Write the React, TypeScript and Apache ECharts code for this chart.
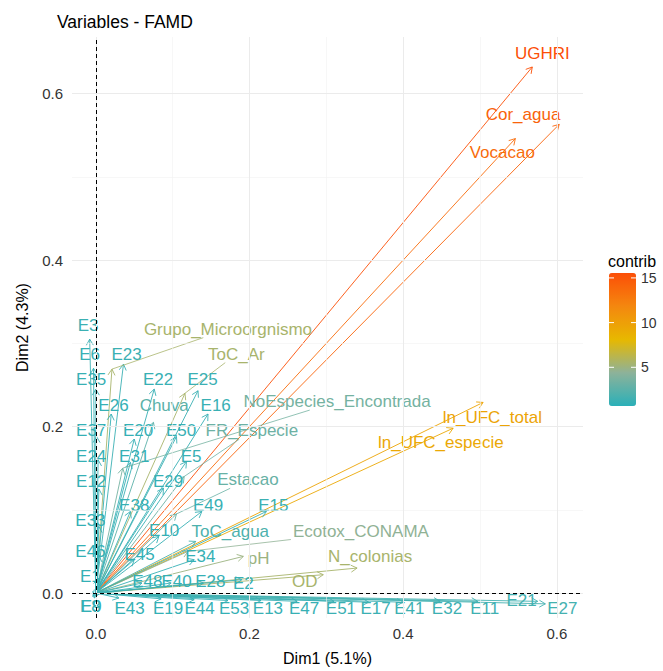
import React, { useEffect, useRef } from "react";
import * as echarts from "echarts";

// ---- data (FAMD variable coordinates) ----
const varNames = [
  "UGHRI", "Cor_agua", "Vocacao", "ln_UFC_total", "ln_UFC_especie",
  "Grupo_Microorgnismo", "ToC_Ar", "NoEspecies_Encontrada", "FR_Especie", "Chuva",
  "Estacao", "ToC_agua", "Ecotox_CONAMA", "pH", "N_colonias", "OD",
  "E3", "E6", "E35", "E37", "E24", "E12", "E33", "E46", "E1", "E8", "E9",
  "E23", "E22", "E25", "E26", "E16", "E20", "E50", "E31", "E5", "E29", "E38",
  "E49", "E15", "E10", "E45", "E34", "E48", "E40", "E28", "E2",
  "E43", "E19", "E44", "E53", "E13", "E47", "E51", "E17", "E41", "E32", "E11", "E21", "E27",
];
const dim1 = [
  0.568, 0.603, 0.546, 0.504, 0.465,
  0.021, 0.116, 0.035, 0.115, 0.075,
  0.105, 0.130, 0.120, 0.192, 0.340, 0.296,
  -0.008, -0.003, 0.000, 0.001, 0.003, 0.004, 0.004, 0.004, 0.003, -0.004, -0.002,
  0.036, 0.076, 0.133, 0.020, 0.146, 0.050, 0.105, 0.045, 0.118, 0.088, 0.045,
  0.138, 0.222, 0.082, 0.050, 0.128, 0.060, 0.098, 0.140, 0.190,
  0.030, 0.085, 0.128, 0.172, 0.215, 0.262, 0.310, 0.355, 0.400, 0.448, 0.497, 0.575, 0.585,
];
const dim2 = [
  0.632, 0.563, 0.546, 0.229, 0.198,
  0.269, 0.240, 0.150, 0.140, 0.205,
  0.095, 0.062, 0.050, 0.044, 0.030, 0.022,
  0.305, 0.270, 0.245, 0.188, 0.160, 0.125, 0.080, 0.045, 0.018, -0.004, -0.006,
  0.275, 0.245, 0.243, 0.215, 0.215, 0.185, 0.188, 0.157, 0.158, 0.126, 0.098,
  0.098, 0.098, 0.068, 0.040, 0.040, 0.012, 0.012, 0.012, 0.016,
  -0.006, -0.007, -0.008, -0.009, -0.009, -0.010, -0.010, -0.011, -0.011, -0.010, -0.010, -0.010, -0.013,
];
const contrib = [
  15.5, 14.2, 13.6, 9.6, 9.3,
  5.5, 5.5, 3.5, 3.2, 2.5,
  3.0, 2.0, 4.5, 5.0, 5.5, 5.5,
  1.3, 1.2, 1.2, 1.1, 1.1, 1.1, 1.0, 1.0, 1.0, 1.0, 1.0,
  1.3, 1.2, 1.3, 1.1, 1.2, 1.1, 1.2, 1.1, 1.2, 1.1, 1.1,
  1.2, 1.3, 1.1, 1.0, 1.1, 1.0, 1.1, 1.1, 1.2,
  1.0, 1.0, 1.1, 1.1, 1.2, 1.2, 1.3, 1.3, 1.4, 1.4, 1.5, 1.6, 1.7,
];
// repelled label positions (data coordinates)
const labelDim1 = [
  0.581, 0.556, 0.529, 0.516, 0.449,
  0.172, 0.183, 0.314, 0.203, 0.089,
  0.198, 0.175, 0.345, 0.212, 0.357, 0.272,
  -0.010, -0.008, -0.006, -0.006, -0.006, -0.006, -0.007, -0.007, -0.007, -0.007, -0.006,
  0.040, 0.081, 0.139, 0.023, 0.156, 0.055, 0.111, 0.050, 0.124, 0.094, 0.050,
  0.146, 0.231, 0.089, 0.057, 0.136, 0.067, 0.105, 0.149, 0.192,
  0.044, 0.094, 0.135, 0.180, 0.224, 0.271, 0.319, 0.364, 0.408, 0.457, 0.506, 0.554, 0.607,
];
const labelDim2 = [
  0.648, 0.575, 0.529, 0.211, 0.181,
  0.317, 0.287, 0.230, 0.195, 0.225,
  0.136, 0.074, 0.074, 0.042, 0.044, 0.014,
  0.321, 0.287, 0.256, 0.195, 0.164, 0.134, 0.087, 0.050, 0.020, -0.016, -0.016,
  0.287, 0.257, 0.257, 0.225, 0.225, 0.195, 0.195, 0.164, 0.164, 0.134, 0.105,
  0.105, 0.105, 0.075, 0.046, 0.044, 0.014, 0.014, 0.014, 0.012,
  -0.018, -0.018, -0.018, -0.018, -0.018, -0.018, -0.018, -0.018, -0.018, -0.018, -0.018, -0.009, -0.019,
];
const axisTicks = [0, 0.2, 0.4, 0.6];
const minorTicks = [0.1, 0.3, 0.5];
const legendTicks = [5, 10, 15];
const contribMin = 0.67;
const contribMax = 15.55;

const FONT = '"Liberation Sans", Arial, sans-serif';
const LABEL_SIZE = 17;

export default function App() {
  const ref = useRef<HTMLDivElement>(null);

  useEffect(() => {
    if (!ref.current) return;
    const chart = echarts.init(ref.current, null, { renderer: "svg" });

    const canvas = document.createElement("canvas");
    const ctx = canvas.getContext("2d")!;
    ctx.font = `${LABEL_SIZE}px ${FONT}`;

    const data = varNames.map((_, i) => [dim1[i], dim2[i], contrib[i], labelDim1[i], labelDim2[i]]);

    const gridLeft = 72, gridRight = 80, gridTop = 37, gridBottom = 51;

    const gridLines: any[] = [];
    minorTicks.forEach((v) => {
      gridLines.push({ xAxis: v, lineStyle: { color: "#F2F2F2", width: 0.6, type: "solid" } });
      gridLines.push({ yAxis: v, lineStyle: { color: "#F2F2F2", width: 0.6, type: "solid" } });
    });
    axisTicks.forEach((v) => {
      gridLines.push({ xAxis: v, lineStyle: { color: "#EBEBEB", width: 1, type: "solid" } });
      gridLines.push({ yAxis: v, lineStyle: { color: "#EBEBEB", width: 1, type: "solid" } });
    });

    // legend geometry
    const lgLeft = 609, lgTop = 273, lgW = 27, lgH = 133;
    const valToY = (v: number) => lgTop + lgH - ((v - contribMin) / (contribMax - contribMin)) * lgH;
    const legendGraphics: any[] = [
      {
        type: "text", left: lgLeft - 1, top: 253,
        style: { text: "contrib", fontSize: 16, fontFamily: FONT, fill: "#000" },
      },
    ];
    legendTicks.forEach((t) => {
      const y = valToY(t);
      legendGraphics.push({
        type: "text", x: lgLeft + lgW + 5, y,
        style: { text: String(t), fontSize: 14, fontFamily: FONT, fill: "#333", verticalAlign: "middle", align: "left" },
        z: 10,
      });
      legendGraphics.push({
        type: "line", shape: { x1: lgLeft, y1: y, x2: lgLeft + 5, y2: y },
        style: { stroke: "#fff", lineWidth: 1 }, z: 10,
      });
      legendGraphics.push({
        type: "line", shape: { x1: lgLeft + lgW - 5, y1: y, x2: lgLeft + lgW, y2: y },
        style: { stroke: "#fff", lineWidth: 1 }, z: 10,
      });
    });

    const fmt = (v: number) => v.toFixed(1);

    const option: any = {
      animation: false,
      backgroundColor: "#ffffff",
      title: {
        text: "Variables - FAMD",
        left: 57, top: 13, padding: 0,
        textStyle: { fontSize: 17.5, fontWeight: "normal", color: "#000", fontFamily: FONT },
      },
      grid: { left: gridLeft, right: gridRight, top: gridTop, bottom: gridBottom },
      xAxis: {
        type: "value", min: -0.031, max: 0.634,
        axisLine: { show: false },
        axisTick: { show: true, length: 4, customValues: axisTicks, lineStyle: { color: "#333" } },
        axisLabel: { customValues: axisTicks, formatter: fmt, color: "#333", fontSize: 15, fontFamily: FONT, margin: 8 },
        splitLine: { show: false },
        name: "Dim1 (5.1%)", nameLocation: "middle", nameGap: 32,
        nameTextStyle: { fontSize: 16, fontFamily: FONT, color: "#000" },
      },
      yAxis: {
        type: "value", min: -0.030, max: 0.668,
        axisLine: { show: false },
        axisTick: { show: true, length: 4, customValues: axisTicks, lineStyle: { color: "#333" } },
        axisLabel: { customValues: axisTicks, formatter: fmt, color: "#333", fontSize: 15, fontFamily: FONT, margin: 9 },
        splitLine: { show: false },
        name: "Dim2 (4.3%)", nameLocation: "middle", nameGap: 42, nameRotate: 90,
        nameTextStyle: { fontSize: 16, fontFamily: FONT, color: "#000" },
      },
      visualMap: {
        type: "continuous", min: contribMin, max: contribMax, dimension: 2,
        seriesIndex: [1, 2], calculable: false, text: null, showLabel: false,
        left: lgLeft, top: lgTop, itemWidth: lgW, itemHeight: lgH, padding: 0,
        inRange: { color: ["#2AB0B8", "#8DB29A", "#E7B800", "#F4870F", "#FC4E07"] },
        hoverLink: false,
      },
      graphic: legendGraphics,
      series: [
        {
          type: "line", data: [[0, 0]], showSymbol: false, silent: true, z: 0,
          lineStyle: { opacity: 0 },
          markLine: {
            silent: true, symbol: "none", animation: false, label: { show: false },
            data: [
              ...gridLines,
              { xAxis: 0, lineStyle: { color: "#000", width: 1, type: [4, 3] } },
              { yAxis: 0, lineStyle: { color: "#000", width: 1, type: [4, 3] } },
            ],
          },
        },
        {
          type: "custom", z: 2, silent: true,
          encode: { x: 0, y: 1 },
          data,
          renderItem: (params: any, api: any) => {
            const o = api.coord([0, 0]);
            const p = api.coord([api.value(0), api.value(1)]);
            const color = api.visual("color");
            const ang = Math.atan2(p[1] - o[1], p[0] - o[0]);
            const L = 7, a = Math.PI / 6;
            const h1 = [p[0] - L * Math.cos(ang - a), p[1] - L * Math.sin(ang - a)];
            const h2 = [p[0] - L * Math.cos(ang + a), p[1] - L * Math.sin(ang + a)];
            return {
              type: "group",
              children: [
                { type: "line", shape: { x1: o[0], y1: o[1], x2: p[0], y2: p[1] }, style: { stroke: color, lineWidth: 0.9 } },
                { type: "polyline", shape: { points: [h1, p, h2] }, style: { stroke: color, fill: null, lineWidth: 0.9 } },
              ],
            };
          },
        },
        {
          type: "custom", z: 3, silent: true,
          encode: { x: 3, y: 4 },
          data,
          renderItem: (params: any, api: any) => {
            const i = params.dataIndex;
            const name = varNames[i];
            const tip = api.coord([api.value(0), api.value(1)]);
            const c = api.coord([api.value(3), api.value(4)]);
            const color = api.visual("color");
            const w = ctx.measureText(name).width;
            const hw = w / 2 + 2, hh = LABEL_SIZE / 2;
            const children: any[] = [];
            const dx = tip[0] - c[0], dy = tip[1] - c[1];
            const tx = Math.abs(dx) > 1e-6 ? hw / Math.abs(dx) : Infinity;
            const ty = Math.abs(dy) > 1e-6 ? hh / Math.abs(dy) : Infinity;
            const t = Math.min(tx, ty);
            if (t < 1) {
              const ex = c[0] + dx * t, ey = c[1] + dy * t;
              const len = Math.hypot(tip[0] - ex, tip[1] - ey);
              if (len > 12) {
                children.push({
                  type: "line", shape: { x1: tip[0], y1: tip[1], x2: ex, y2: ey },
                  style: { stroke: color, lineWidth: 0.8 },
                });
              }
            }
            children.push({
              type: "text",
              style: {
                text: name, x: c[0], y: c[1], fill: color,
                fontSize: LABEL_SIZE, fontFamily: FONT, align: "center", verticalAlign: "middle",
              },
            });
            return { type: "group", children };
          },
        },
      ],
    };

    chart.setOption(option);
    return () => chart.dispose();
  }, []);

  return <div ref={ref} style={{ width: 663, height: 671, position: "absolute", left: 0, top: 0, background: "#fff" }} />;
}
